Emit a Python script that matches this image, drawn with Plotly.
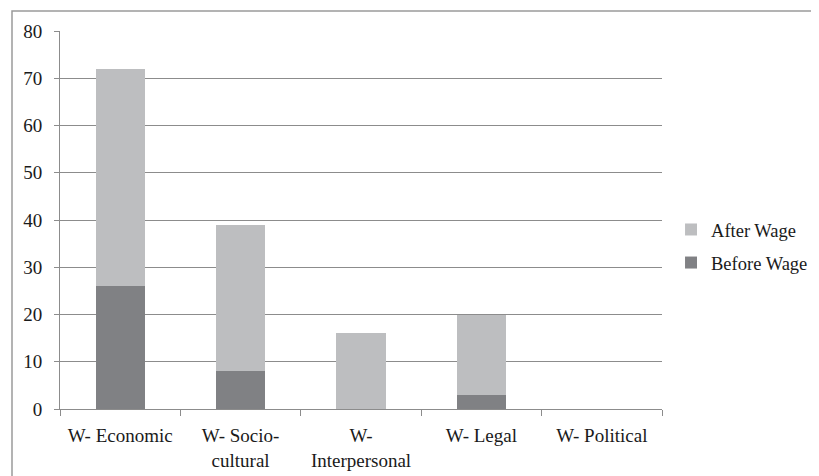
import plotly.graph_objects as go

categories = ["W- Economic", "W- Socio-<br>cultural", "W-<br>Interpersonal", "W- Legal", "W- Political"]
before_wage = [26, 8, 0, 3, 0]
after_wage = [46, 31, 16, 17, 0]
y_ticks = [0, 10, 20, 30, 40, 50, 60, 70, 80]

font_family = "Liberation Serif, Times New Roman, serif"

fig = go.Figure()
fig.add_trace(go.Bar(x=categories, y=before_wage, name="Before Wage",
                     marker=dict(color="#808184", line=dict(width=0)),
                     legendgroup="before", legendrank=2))
fig.add_trace(go.Bar(x=categories, y=after_wage, name="After Wage",
                     marker=dict(color="#BDBEC0", line=dict(width=0)),
                     legendgroup="after", legendrank=1))

fig.update_layout(
    barmode="stack",
    bargap=0.59,
    width=811, height=468,
    margin=dict(l=52, r=157, t=23, b=67, autoexpand=False),
    paper_bgcolor="white",
    plot_bgcolor="white",
    font=dict(family=font_family, size=19, color="#1a1a1a"),
    legend=dict(x=1.015, y=0.43, xanchor="left", yanchor="middle",
                traceorder="grouped", tracegroupgap=6,
                font=dict(size=18.5, family=font_family, color="#1a1a1a"),
                itemwidth=30),
    xaxis=dict(showgrid=False, showline=True, linecolor="#8c8c8c", linewidth=1,
               ticks="outside", tickson="boundaries", ticklen=6, tickcolor="#8c8c8c",
               ticklabelstandoff=9,
               tickfont=dict(size=19, family=font_family)),
    yaxis=dict(range=[0, 80], tickvals=y_ticks, showgrid=True, gridcolor="#8c8c8c",
               gridwidth=1, showline=True, linecolor="#8c8c8c", linewidth=1,
               ticks="outside", ticklen=5, tickcolor="#8c8c8c", zeroline=False,
               ticklabelstandoff=8,
               tickfont=dict(size=19, family=font_family)),
    shapes=[dict(type="rect", xref="paper", yref="paper",
                 x0=-48/602, x1=1.5, y0=-1, y1=1 + 20/378,
                 line=dict(color="#9a9a9a", width=1.5), fillcolor="rgba(0,0,0,0)",
                 layer="below")],
)

fig.write_html("out.html")
